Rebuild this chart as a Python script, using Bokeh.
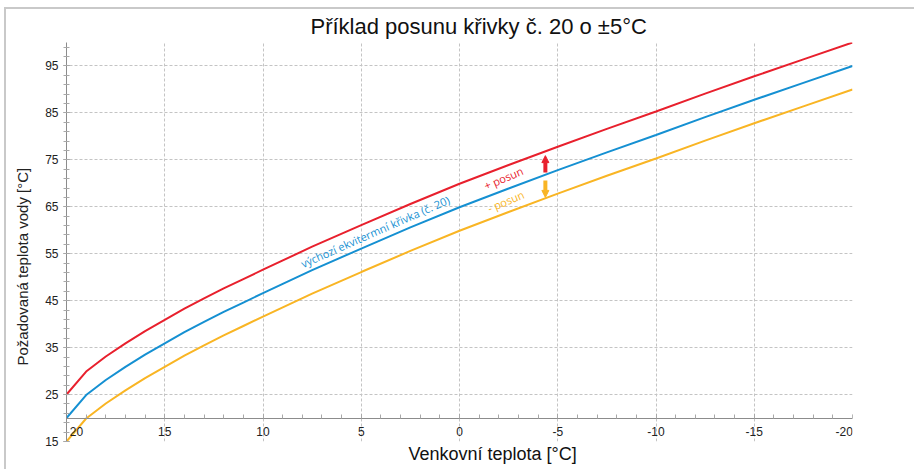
from bokeh.plotting import figure
from bokeh.models import Range1d, FixedTicker, Title, Label, Arrow, NormalHead
from bokeh.embed import file_html
from bokeh.resources import INLINE

# ---- data ----
outdoor_temp = [20, 19, 18, 17, 16, 15, 14, 13, 12, 11, 10, 7.5, 5, 2.5, 0,
                -2.5, -5, -7.5, -10, -12.5, -15, -17.5, -20]
curve_base = [20.0, 24.9, 28.1, 30.9, 33.5, 35.9, 38.3, 40.5, 42.6, 44.6, 46.6, 51.5,
              56.1, 60.6, 64.9, 68.9, 72.8, 76.6, 80.3, 84.1, 87.8, 91.4, 95.0]
curve_plus = [25.0, 29.9, 33.1, 35.9, 38.5, 40.9, 43.3, 45.5, 47.6, 49.6, 51.6, 56.5,
              61.1, 65.6, 69.9, 73.9, 77.8, 81.6, 85.3, 89.1, 92.8, 96.4, 100.0]
curve_minus = [15.0, 19.9, 23.1, 25.9, 28.5, 30.9, 33.3, 35.5, 37.6, 39.6, 41.6, 46.5,
               51.1, 55.6, 59.9, 63.9, 67.8, 71.6, 75.3, 79.1, 82.8, 86.4, 90.0]
x_ticks = [20, 15, 10, 5, 0, -5, -10, -15, -20]
x_minor_ticks = list(range(-20, 21))
y_ticks = [15, 25, 35, 45, 55, 65, 75, 85, 95]
y_minor_ticks = list(range(15, 101, 2))

TITLE = "Příklad posunu křivky č. 20 o ±5°C"
X_LABEL = "Venkovní teplota [°C]"
Y_LABEL = "Požadovaná teplota vody [°C]"
BASE_LABEL = "výchozí ekvitermní křivka (č. 20)"
PLUS_LABEL = "+ posun"
MINUS_LABEL = "- posun"

RED = "#e8202d"
BLUE = "#1590d2"
ORANGE = "#f9b524"
FONT = "Liberation Sans"
ANN_FONT = "Open Sans"
NB = "\u00a0"

p = figure(width=912, height=469,
           x_range=Range1d(20, -20), y_range=Range1d(15, 100),
           output_backend="svg", toolbar_location=None,
           min_border_left=66, min_border_right=60, min_border_top=42, min_border_bottom=28)

p.outline_line_color = None
p.background_fill_color = "white"
p.border_fill_color = "white"
# light container border (top and left edges)
p.stylesheets = [":host::after { content: ''; position: absolute; left: 4px; top: 7px; "
                 "right: -10px; bottom: -10px; border-left: 2px solid #c9c9c9; "
                 "border-top: 2px solid #c9c9c9; pointer-events: none; z-index: 10; }"]

# title
p.title.text = TITLE
p.title.align = "left"
p.title.offset = 244
p.title.standoff = 8
p.title.text_font = FONT
p.title.text_font_size = "22px"
p.title.text_font_style = "normal"
p.title.text_color = "#111111"

# axes
xa = p.xaxis[0]
xa.fixed_location = 20
xa.ticker = FixedTicker(ticks=x_ticks, minor_ticks=x_minor_ticks)
labels = {t: str(t) for t in x_ticks}
labels[x_ticks[0]] = NB * 6 + str(x_ticks[0])
labels[x_ticks[-1]] = str(x_ticks[-1]) + NB * 5
xa.major_label_overrides = labels
xa.major_tick_in = 4
xa.major_tick_out = 0
xa.minor_tick_in = 4
xa.minor_tick_out = 0
xa.major_label_standoff = 7
ya = p.yaxis[0]
ya.ticker = FixedTicker(ticks=y_ticks, minor_ticks=y_minor_ticks)
ya.major_tick_in = 3
ya.major_tick_out = 3
ya.minor_tick_in = 3
ya.minor_tick_out = 3
ya.major_label_standoff = 5
for ax in (xa, ya):
    ax.axis_line_color = "#8c8c8c"
    ax.major_tick_line_color = "#8c8c8c"
    ax.minor_tick_line_color = "#a8a8a8"
    ax.major_label_text_font = FONT
    ax.major_label_text_font_size = "12px"
    ax.major_label_text_color = "#222222"

p.xgrid.ticker = FixedTicker(ticks=x_ticks)
p.ygrid.ticker = FixedTicker(ticks=y_ticks)
for g in (p.xgrid, p.ygrid):
    g.grid_line_color = "#c4c4c4"
    g.grid_line_dash = "3 2"
    g.grid_line_width = 1

# axis titles
p.add_layout(Title(text=Y_LABEL, align="left", offset=76, standoff=23, text_font=FONT,
                   text_font_size="15px", text_font_style="normal",
                   text_color="#222222"), "left")
p.add_layout(Title(text=X_LABEL, align="left", offset=342, standoff=4,
                   vertical_align="top", text_font=FONT,
                   text_font_size="18px", text_font_style="normal",
                   text_color="#111111"), "below")

# curves
p.line(outdoor_temp, curve_plus, line_color=RED, line_width=2)
p.line(outdoor_temp, curve_base, line_color=BLUE, line_width=2)
p.line(outdoor_temp, curve_minus, line_color=ORANGE, line_width=2)

# annotations
p.add_layout(Label(x=8.05, y=52.8, text=BASE_LABEL, angle=23.8, angle_units="deg",
                   text_font=ANN_FONT, text_font_size="11px", text_color=BLUE,
                   text_baseline="alphabetic"))
p.add_layout(Label(x=-1.27, y=69.4, text=PLUS_LABEL, angle=23, angle_units="deg",
                   text_font=ANN_FONT, text_font_size="11px", text_color=RED,
                   text_baseline="alphabetic"))
p.add_layout(Label(x=-1.45, y=64.6, text=MINUS_LABEL, angle=23, angle_units="deg",
                   text_font=ANN_FONT, text_font_size="11px", text_color=ORANGE,
                   text_baseline="alphabetic"))

p.add_layout(Arrow(end=NormalHead(size=7, fill_color=RED, line_color=RED, line_width=1),
                   x_start=-4.37, y_start=72.3, x_end=-4.37, y_end=75.9,
                   line_color=RED, line_width=4))
p.add_layout(Arrow(end=NormalHead(size=7, fill_color=ORANGE, line_color=ORANGE, line_width=1),
                   x_start=-4.37, y_start=70.6, x_end=-4.37, y_end=67.0,
                   line_color=ORANGE, line_width=4))

open("out.html", "w").write(file_html(p, INLINE))
